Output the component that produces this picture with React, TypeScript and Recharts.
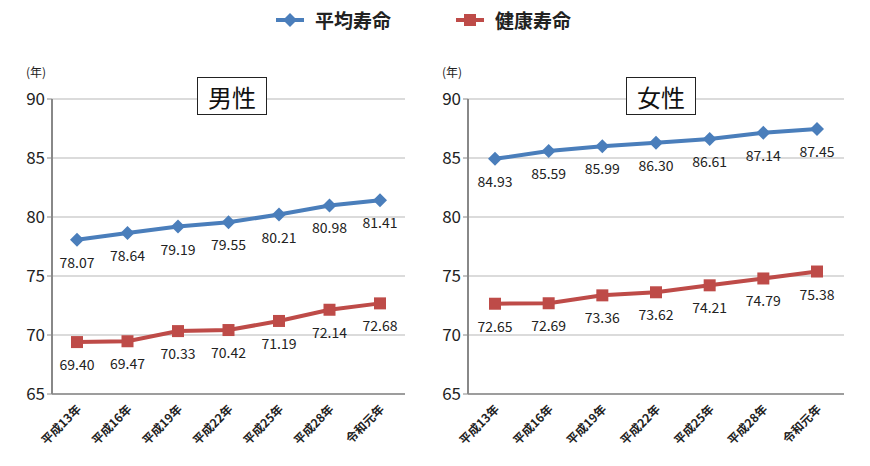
import React from "react";
import { LineChart, Line, XAxis, YAxis, CartesianGrid, LabelList } from "recharts";

const categories = ["平成13年", "平成16年", "平成19年", "平成22年", "平成25年", "平成28年", "令和元年"];
const maleAverage = [78.07, 78.64, 79.19, 79.55, 80.21, 80.98, 81.41];
const maleHealthy = [69.4, 69.47, 70.33, 70.42, 71.19, 72.14, 72.68];
const femaleAverage = [84.93, 85.59, 85.99, 86.3, 86.61, 87.14, 87.45];
const femaleHealthy = [72.65, 72.69, 73.36, 73.62, 74.21, 74.79, 75.38];
const yTicks = [65, 70, 75, 80, 85, 90];

const BLUE = "#4A7EBB";
const RED = "#BE4B48";
const FONT = "'Noto Sans CJK JP', 'Noto Sans', sans-serif";

function buildRows(avg: number[], healthy: number[]) {
  return categories.map((c, i) => ({ cat: c, avg: avg[i], healthy: healthy[i] }));
}

function Diamond(props: any) {
  const { cx, cy, fill } = props;
  if (cx == null || cy == null) return null;
  const r = 7;
  return <path d={`M${cx},${cy - r}L${cx + r},${cy}L${cx},${cy + r}L${cx - r},${cy}Z`} fill={fill} />;
}

function Square(props: any) {
  const { cx, cy, fill } = props;
  if (cx == null || cy == null) return null;
  const s = 6;
  return <rect x={cx - s} y={cy - s} width={s * 2} height={s * 2} fill={fill} />;
}

function ValueLabel(props: any) {
  const { x, y, value } = props;
  return (
    <text x={x} y={y + 22} textAnchor="middle" dominantBaseline="central" fontSize={14} fill="#222" fontFamily={FONT}>
      {Number(value).toFixed(2)}
    </text>
  );
}

function CatTick(props: any) {
  const { x, y, payload } = props;
  return (
    <text
      x={x + 5}
      y={y + 8}
      transform={`rotate(-45 ${x + 5} ${y + 8})`}
      textAnchor="end"
      fontSize={12}
      fontWeight="bold"
      fill="#222"
      fontFamily={FONT}
    >
      {payload.value}
    </text>
  );
}

function Panel({ avg, healthy, left, width, marginLeft, marginRight, pad, title, titleX }: any) {
  const data = buildRows(avg, healthy);
  return (
    <div style={{ position: "absolute", left, top: 0, width, height: 466 }}>
      <LineChart width={width} height={466} data={data} margin={{ top: 99, right: marginRight, bottom: 0, left: marginLeft }}>
        <CartesianGrid vertical={false} stroke="#b8b8b8" strokeWidth={1.2} />
        <XAxis
          dataKey="cat"
          height={72}
          tick={<CatTick />}
          tickLine={false}
          axisLine={{ stroke: "#888", strokeWidth: 1.5 }}
          interval={0}
          padding={{ left: pad, right: pad }}
        />
        <YAxis
          domain={[65, 90]}
          ticks={yTicks}
          width={40}
          tick={{ fontSize: 17, fill: "#222", fontFamily: FONT }}
          tickLine={{ stroke: "#888" }}
          axisLine={{ stroke: "#888", strokeWidth: 2 }}
          tickSize={5}
        />
        <Line dataKey="avg" stroke={BLUE} strokeWidth={4} dot={<Diamond fill={BLUE} />} isAnimationActive={false}>
          <LabelList dataKey="avg" content={<ValueLabel />} />
        </Line>
        <Line dataKey="healthy" stroke={RED} strokeWidth={4} dot={<Square fill={RED} />} isAnimationActive={false}>
          <LabelList dataKey="healthy" content={<ValueLabel />} />
        </Line>
      </LineChart>
      <div style={{ position: "absolute", left: marginLeft + 14, top: 63, fontSize: 12, fontFamily: FONT, color: "#222" }}>(年)</div>
      <div
        style={{
          position: "absolute",
          left: titleX,
          top: 77,
          width: 70,
          height: 38,
          border: "1.5px solid #222",
          background: "#fff",
          boxSizing: "border-box",
          display: "flex",
          alignItems: "center",
          justifyContent: "center",
          fontSize: 24,
          fontFamily: FONT,
          color: "#111",
        }}
      >
        {title}
      </div>
    </div>
  );
}

function LegendItem({ color, shape, label, left }: any) {
  return (
    <div style={{ position: "absolute", left, top: 6, display: "flex", alignItems: "center", fontFamily: FONT }}>
      <svg width={30} height={20}>
        <line x1={1} y1={10} x2={29} y2={10} stroke={color} strokeWidth={4} />
        {shape === "diamond" ? (
          <path d="M15,3L22,10L15,17L8,10Z" fill={color} />
        ) : (
          <rect x={9} y={4} width={12} height={12} fill={color} />
        )}
      </svg>
      <span style={{ marginLeft: 10, fontSize: 19, fontWeight: "bold", color: "#222" }}>{label}</span>
    </div>
  );
}

export default function App() {
  return (
    <div style={{ position: "absolute", left: 0, top: 0, width: 870, height: 466, background: "#fff", overflow: "hidden" }}>
      <Panel avg={maleAverage} healthy={maleHealthy} left={0} width={420} marginLeft={12} marginRight={15} pad={25} title="男性" titleX={197} />
      <Panel avg={femaleAverage} healthy={femaleHealthy} left={420} width={430} marginLeft={8} marginRight={6} pad={27} title="女性" titleX={206} />
      <LegendItem color={BLUE} shape="diamond" label="平均寿命" left={275} />
      <LegendItem color={RED} shape="square" label="健康寿命" left={455} />
    </div>
  );
}
